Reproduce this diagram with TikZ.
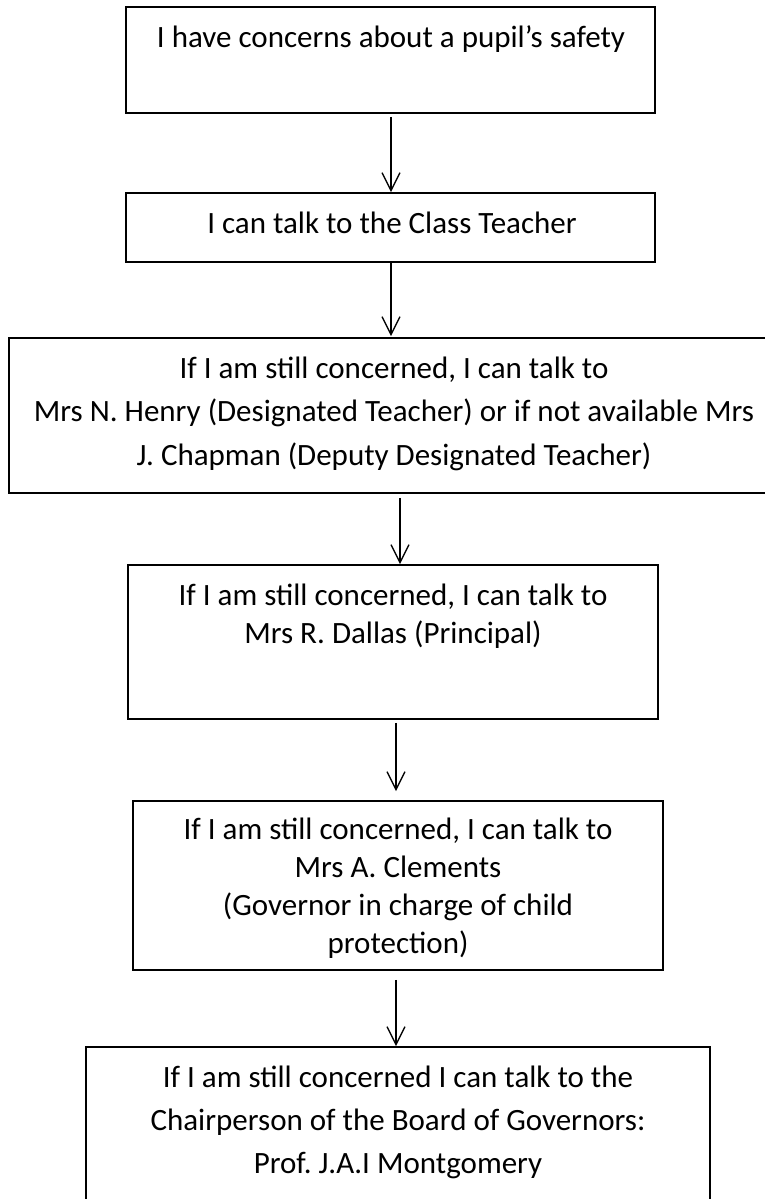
\documentclass[tikz,border=0pt]{standalone}
\usepackage{fontspec}
\setmainfont{Carlito}
\usetikzlibrary{arrows.meta}
\frenchspacing

\begin{document}
\begin{tikzpicture}[x=1pt,y=-1pt,>={Straight Barb[length=18pt,width=18pt]}]
 \tikzstyle{stepbox} = [draw=black,line width=1.8pt,rectangle,inner sep=0]
 \tikzstyle{steptext} = [anchor=base,align=center,inner sep=0]
 \tikzstyle{flow} = [->,line width=1.3pt]
 \newcommand{\stepfont}[1]{\fontsize{31}{#1}\selectfont}

 \useasboundingbox (0,0) rectangle (765,1199);
 \clip (0,0) rectangle (765,1199);

% Boxes
 \node[stepbox,minimum width=529,minimum height=106] (b1) at (390.5,60) {};
 \node[stepbox,minimum width=529,minimum height=69] (b2) at (390.5,227.5) {};
 \node[stepbox,minimum width=771,minimum height=155] (b3) at (394.5,415.5) {};
 \node[stepbox,minimum width=530,minimum height=154] (b4) at (393,642) {};
 \node[stepbox,minimum width=530,minimum height=169] (b5) at (398,885.5) {};
 \node[stepbox,minimum width=624,minimum height=166] (b6) at (398,1130) {};

% Texts (base = last line)
 \node[steptext,font=\stepfont{38}] (t1) at (391,48) {I have concerns about a pupil’s safety};
 \node[steptext,font=\stepfont{38}] (t2) at (392,233) {I can talk to the Class Teacher};
 \node[steptext,font=\stepfont{43.5}] (t3) at (394,465) {If I am still concerned, I can talk to\\
   Mrs N. Henry (Designated Teacher) or if not available Mrs\\
   J. Chapman (Deputy Designated Teacher)};
 \node[steptext,font=\stepfont{38}] (t4) at (393,643) {If I am still concerned, I can talk to\\
   Mrs R. Dallas (Principal)};
 \node[steptext,font=\stepfont{37.7}] (t5) at (398,953) {If I am still concerned, I can talk to\\
   Mrs A. Clements\\ (Governor in charge of child\\ protection)};
 \node[steptext,font=\stepfont{43}] (t6) at (398,1173) {If I am still concerned I can talk to the\\
   Chairperson of the Board of Governors:\\ Prof. J.A.I Montgomery};

% Arrows
 \draw[flow,shorten <=3pt] ([xshift=0.5pt]b1.south) -- ([xshift=0.5pt]b1.south |- b2.north);
 \draw[flow] ([xshift=0.5pt]b2.south) -- ([xshift=0.5pt,yshift=1pt]b2.south |- b3.north);
 \draw[flow,shorten <=4pt] ([xshift=5.5pt]b3.south) -- ([xshift=5.5pt]b3.south |- b4.north);
 \draw[flow,shorten <=3pt,shorten >=9pt] ([xshift=3pt]b4.south) -- ([xshift=3pt]b4.south |- b5.north);
 \draw[flow,shorten <=9pt] ([xshift=-2pt]b5.south) -- ([xshift=-2pt]b5.south |- b6.north);

\end{tikzpicture}
\end{document}
